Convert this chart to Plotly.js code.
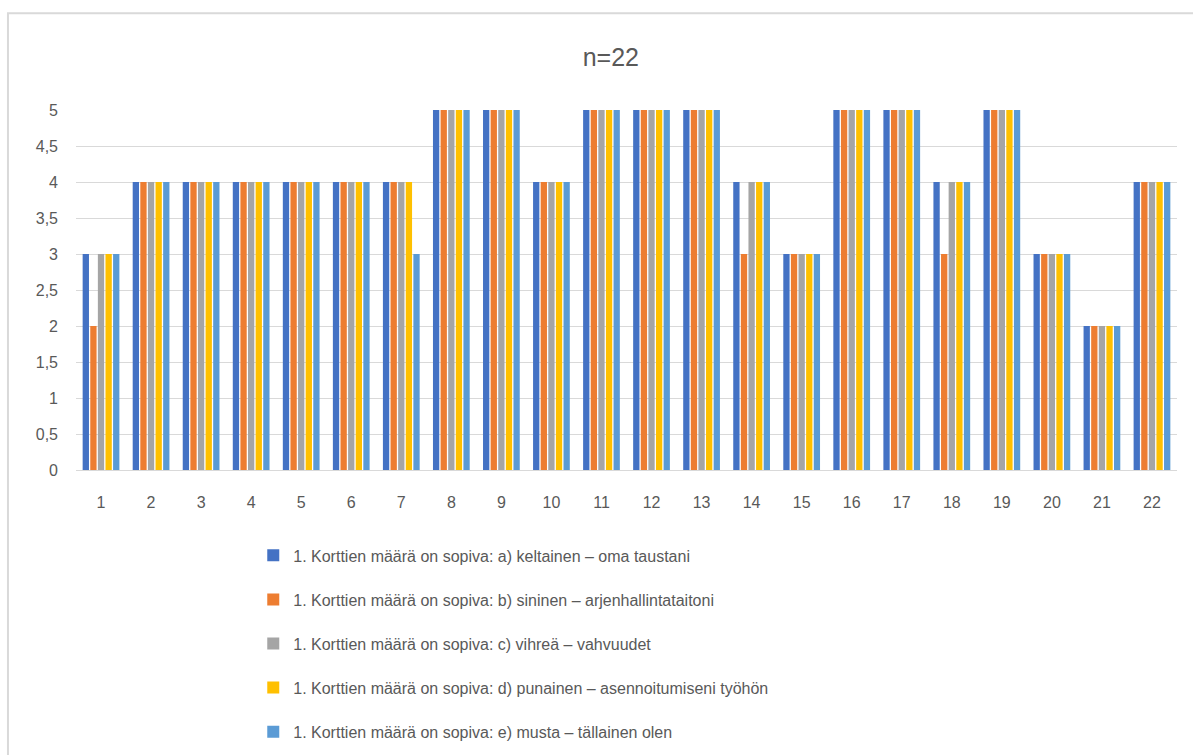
<!DOCTYPE html>
<html>
<head>
<meta charset="utf-8">
<script src="https://cdn.plot.ly/plotly-3.0.1.min.js"></script>
<style>html,body{margin:0;padding:0;background:#fff;}#chart{width:1193px;height:755px;}</style>
</head>
<body>
<div id="chart"></div>
<script>
const categories = ["1","2","3","4","5","6","7","8","9","10","11","12","13","14","15","16","17","18","19","20","21","22"];
const seriesNames = [
  "1. Korttien määrä on sopiva: a) keltainen – oma taustani",
  "1. Korttien määrä on sopiva: b) sininen – arjenhallintataitoni",
  "1. Korttien määrä on sopiva: c) vihreä – vahvuudet",
  "1. Korttien määrä on sopiva: d) punainen – asennoitumiseni työhön",
  "1. Korttien määrä on sopiva: e) musta – tällainen olen"
];
const seriesA = [3,4,4,4,4,4,4,5,5,4,5,5,5,4,3,5,5,4,5,3,2,4];
const seriesB = [2,4,4,4,4,4,4,5,5,4,5,5,5,3,3,5,5,3,5,3,2,4];
const seriesC = [3,4,4,4,4,4,4,5,5,4,5,5,5,4,3,5,5,4,5,3,2,4];
const seriesD = [3,4,4,4,4,4,4,5,5,4,5,5,5,4,3,5,5,4,5,3,2,4];
const seriesE = [3,4,4,4,4,4,3,5,5,4,5,5,5,4,3,5,5,4,5,3,2,4];
const colors = ["#4472C4","#ED7D31","#A5A5A5","#FFC000","#5B9BD5"];
const yTickVals = [0,0.5,1,1.5,2,2.5,3,3.5,4,4.5,5];
const yTickText = ["0","0,5","1","1,5","2","2,5","3","3,5","4","4,5","5"];

const allSeries = [seriesA, seriesB, seriesC, seriesD, seriesE];
const traces = allSeries.map((vals, i) => ({
  type: 'bar',
  x: categories,
  y: vals,
  name: seriesNames[i],
  legendgroup: 'g' + i,
  marker: {color: colors[i], line: {width: 0}},
  hoverinfo: 'x+y+name'
}));

const FONT = 'Liberation Sans, Arial, sans-serif';
const layout = {
  width: 1193,
  height: 755,
  paper_bgcolor: '#ffffff',
  plot_bgcolor: '#ffffff',
  font: {family: FONT, color: '#595959', size: 15},
  margin: {l: 76, r: 16, t: 110, b: 285, pad: 0, autoexpand: false},
  barmode: 'group',
  bargap: 0.24,
  bargroupgap: 0.17,
  title: {
    text: 'n=22',
    font: {family: FONT, size: 25, color: '#595959'},
    x: 0.512, xanchor: 'center',
    y: 0.9245, yanchor: 'middle'
  },
  xaxis: {
    type: 'category',
    tickfont: {size: 16, color: '#595959'},
    showgrid: false,
    showline: true,
    linecolor: '#d9d9d9',
    linewidth: 1,
    ticks: '',
    ticklabelstandoff: 18,
    zeroline: false,
    automargin: false,
    fixedrange: true
  },
  yaxis: {
    range: [0, 5],
    tickvals: yTickVals,
    ticktext: yTickText,
    tickfont: {size: 16, color: '#595959'},
    showgrid: true,
    gridcolor: '#d9d9d9',
    gridwidth: 1,
    zeroline: false,
    showline: false,
    ticks: '',
    ticklabelstandoff: 17,
    automargin: false,
    fixedrange: true
  },
  showlegend: true,
  legend: {
    orientation: 'v',
    x: 0.161, xanchor: 'left',
    y: -0.19, yanchor: 'top',
    traceorder: 'grouped',
    tracegroupgap: 20.3,
    font: {family: FONT, size: 16, color: '#595959'},
    bgcolor: 'rgba(0,0,0,0)',
    itemclick: false,
    itemdoubleclick: false
  },
  shapes: [{
    type: 'rect', xref: 'paper', yref: 'paper',
    x0: -0.0618, x1: 1.05, y0: -1.2, y1: 1.269,
    line: {color: '#d9d9d9', width: 2},
    fillcolor: 'rgba(0,0,0,0)',
    layer: 'below'
  }]
};

Plotly.newPlot('chart', traces, layout, {displayModeBar: false, staticPlot: false, responsive: false});
</script>
</body>
</html>
